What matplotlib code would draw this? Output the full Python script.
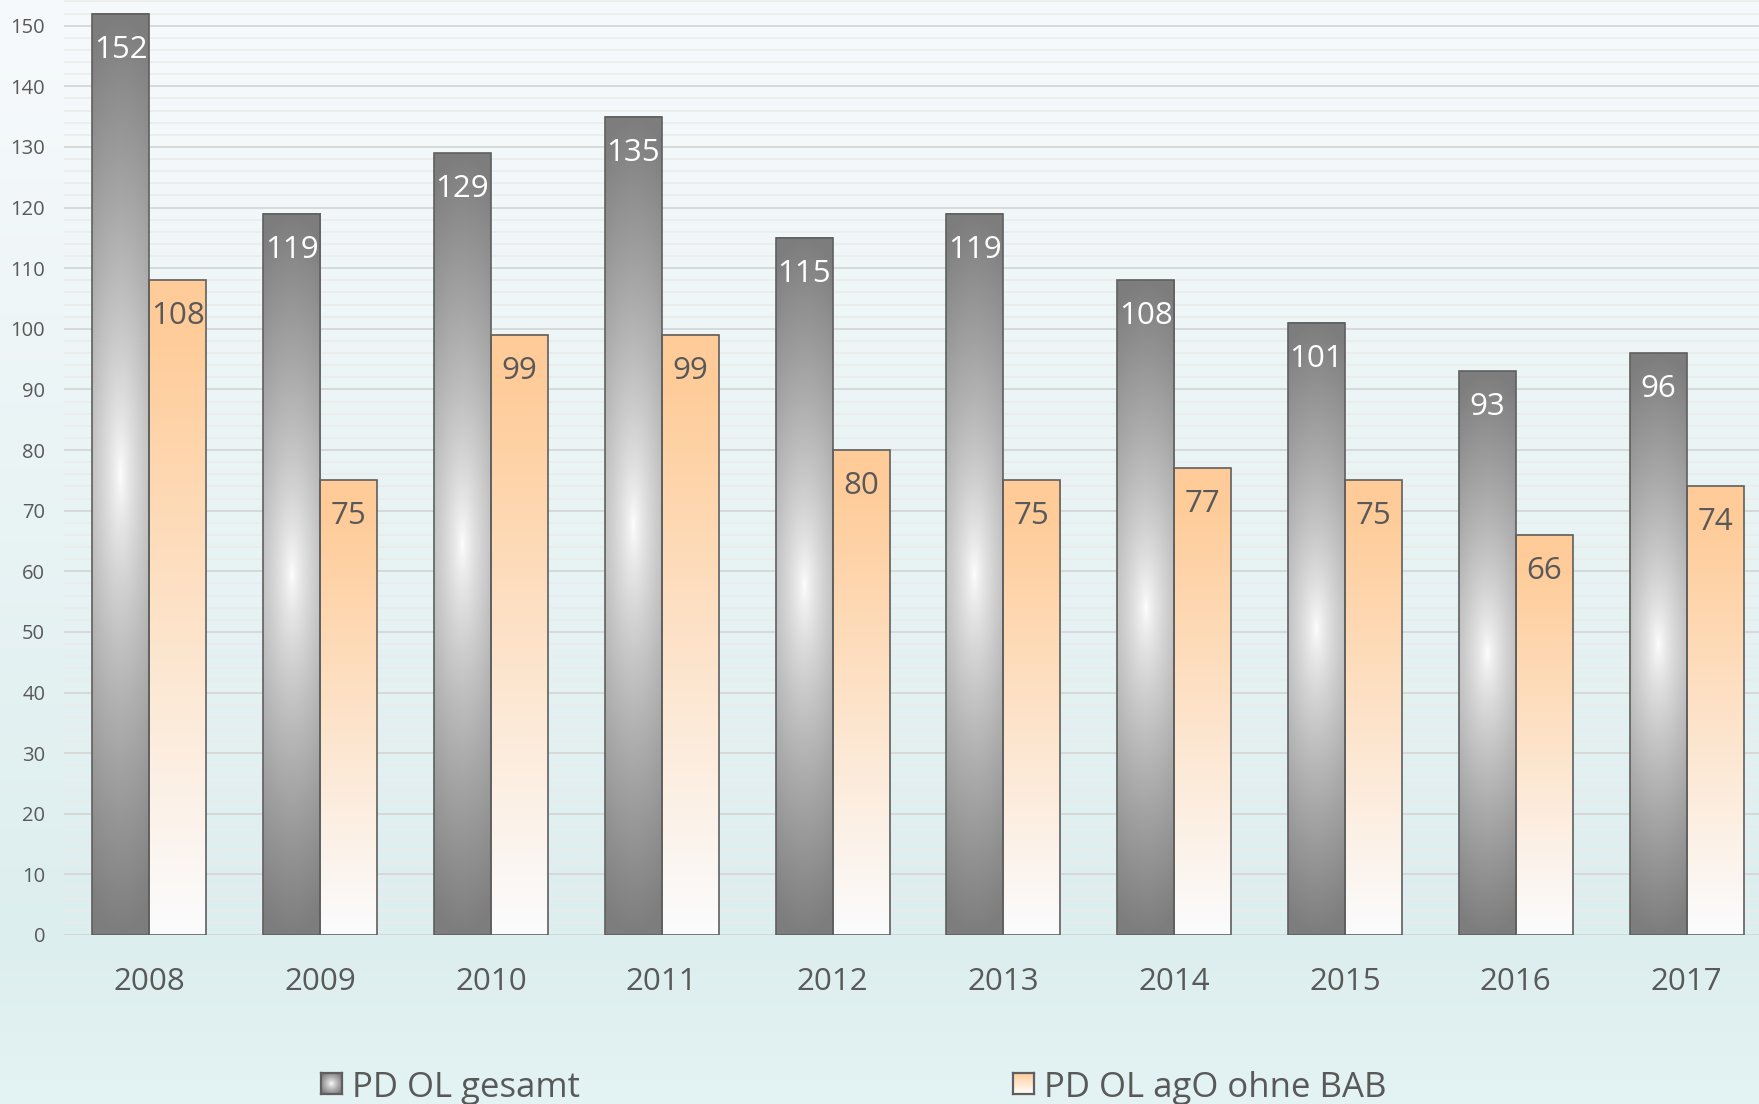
import numpy as np
import matplotlib
matplotlib.use("Agg")
import matplotlib.pyplot as plt
from matplotlib.ticker import MultipleLocator
from matplotlib.colors import to_rgb

# ---- data ----
years = ["2008", "2009", "2010", "2011", "2012", "2013", "2014", "2015", "2016", "2017"]
gesamt = [152, 119, 129, 135, 115, 119, 108, 101, 93, 96]
ohne_bab = [108, 75, 99, 99, 80, 75, 77, 75, 66, 74]
series_names = ["PD OL gesamt", "PD OL agO ohne BAB"]

W, H, DPI = 1759, 1104, 100
FONT = ["Open Sans", "DejaVu Sans"]
TXT = "#595959"
EDGE = "#5f5f5f"
GREY = np.array(to_rgb("#7d7d7d"))
ORANGE = np.array(to_rgb("#ffcc99"))
WHITE = np.array([1.0, 1.0, 1.0])

fig = plt.figure(figsize=(W / DPI, H / DPI), dpi=DPI)

# ---- background gradient ----
bg_ax = fig.add_axes([0, 0, 1, 1], zorder=-10)
ys = np.linspace(0, 1, 400)[:, None]  # 0 top -> 1 bottom
top_c = np.array(to_rgb("#f7fafc"))
mid_c = np.array(to_rgb("#ddeeee"))
bot_c = np.array(to_rgb("#e4f3f3"))
bg = np.where(ys < 0.85,
              top_c + (mid_c - top_c) * (ys / 0.85),
              mid_c + (bot_c - mid_c) * ((ys - 0.85) / 0.15))
bg_ax.imshow(bg[:, None, :].repeat(2, axis=1), aspect="auto", extent=[0, 1, 0, 1])
bg_ax.set_axis_off()

# ---- main axes ----
px_per_unit = (935 - 25.7) / 150.0
group_px = 170.8
ax_left, ax_bottom_px = 64, 935
ax = fig.add_axes([ax_left / W, (H - ax_bottom_px) / H, (W - ax_left) / W, ax_bottom_px / H])
ax.patch.set_alpha(0)
xlim = (-0.5, -0.5 + (W - ax_left) / group_px)
ylim = (0, ax_bottom_px / px_per_unit)

for s in ax.spines.values():
    s.set_visible(False)
ax.set_axisbelow(True)
ax.yaxis.set_major_locator(MultipleLocator(10))
ax.yaxis.set_minor_locator(MultipleLocator(2))
ax.grid(which="major", axis="y", color="#d6d6d6", linewidth=1.3, zorder=0)
ax.grid(which="minor", axis="y", color="#ebebeb", linewidth=1.1, zorder=0)
ax.tick_params(axis="both", which="both", length=0)
ax.tick_params(axis="y", pad=13.5, labelsize=14.5, labelcolor=TXT)
ax.tick_params(axis="x", pad=23, labelsize=22.5, labelcolor=TXT)

x = np.arange(len(years))
bw = 57 / group_px


def grey_grad(ny=300, nx=60):
    yy = np.linspace(-1, 1, ny)[:, None]
    xx = np.linspace(-1, 1, nx)[None, :]
    r = np.clip(np.sqrt(yy ** 2 + (0.35 * xx) ** 2), 0, 1) ** 0.75
    return WHITE + (GREY - WHITE) * r[..., None]


def orange_grad(ny=300):
    t = np.linspace(0, 1, ny)[:, None, None]  # 0 top
    bottom = np.array(to_rgb("#fbfcfe"))
    t2 = np.clip((t - 0.08) / 0.92, 0, 1)
    return (ORANGE + (bottom - ORANGE) * t2).repeat(2, axis=1)


gimg = grey_grad()
oimg = orange_grad()

b1 = ax.bar(x - bw / 2, gesamt, width=bw, facecolor="none", edgecolor=EDGE, linewidth=1.2, zorder=4)
b2 = ax.bar(x + bw / 2, ohne_bab, width=bw, facecolor="none", edgecolor=EDGE, linewidth=1.2, zorder=4)
for xi, v in zip(x, gesamt):
    ax.imshow(gimg, extent=[xi - bw, xi, 0, v], aspect="auto", zorder=3, interpolation="bilinear")
    ax.annotate(str(v), xy=(xi - bw / 2, v), xytext=(0, -31.7), textcoords="offset points",
                ha="center", va="baseline", color="white", fontsize=22.5, family=FONT, zorder=5)
for xi, v in zip(x, ohne_bab):
    ax.imshow(oimg, extent=[xi, xi + bw, 0, v], aspect="auto", zorder=3, interpolation="bilinear")
    ax.annotate(str(v), xy=(xi + bw / 2, v), xytext=(0, -31.7), textcoords="offset points",
                ha="center", va="baseline", color=TXT, fontsize=22.5, family=FONT, zorder=5)

ax.set_xticks(x)
ax.set_xticklabels(years)
ax.set_yticks(np.arange(0, 151, 10))
for lab in ax.get_xticklabels() + ax.get_yticklabels():
    lab.set_family(FONT)
ax.set_xlim(*xlim)
ax.set_ylim(*ylim)

# ---- legend (manual) ----
def add_marker(x0, y0, img):
    mx = fig.add_axes([x0 / W, (H - y0 - 21) / H, 21 / W, 21 / H])
    mx.imshow(img, aspect="auto", interpolation="bilinear")
    mx.set_xticks([]); mx.set_yticks([])
    for s in mx.spines.values():
        s.set_color(EDGE); s.set_linewidth(1.6)

yy = np.linspace(-1, 1, 40)[:, None]
xx = np.linspace(-1, 1, 40)[None, :]
rr = np.clip(np.sqrt(xx ** 2 + yy ** 2) / 1.2, 0, 1) ** 0.8
leg_grey = WHITE + (GREY - WHITE) * rr[..., None]
t = np.linspace(0, 1, 40)[:, None, None]
leg_orange = (ORANGE + (WHITE - ORANGE) * t).repeat(40, axis=1)

add_marker(321, 1073, leg_grey)
add_marker(1013, 1073, leg_orange)
fig.text(352 / W, (H - 1097) / H, series_names[0], fontsize=25, color=TXT, family=FONT, va="baseline")
fig.text(1044 / W, (H - 1097) / H, series_names[1], fontsize=25, color=TXT, family=FONT, va="baseline")

fig.savefig("out.png", dpi=DPI)
